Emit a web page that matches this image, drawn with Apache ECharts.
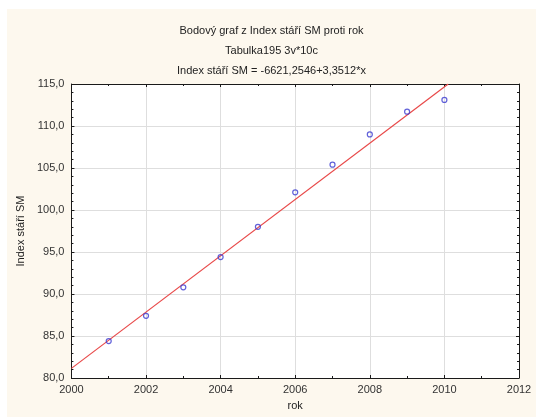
<!DOCTYPE html>
<html>
<head>
<meta charset="utf-8">
<script src="https://cdn.jsdelivr.net/npm/echarts@6/dist/echarts.min.js"></script>
<style>
  html, body { margin: 0; padding: 0; background: #ffffff; }
  #chart { position: absolute; left: 7px; top: 9px; width: 529px; height: 408px; background: #fdf8ee; }
</style>
</head>
<body>
<div id="chart"></div>
<script>
// Observed values: year vs. ageing index
const years = [2001, 2002, 2003, 2004, 2005, 2006, 2007, 2008, 2009, 2010];
const indexValues = [84.4, 87.4, 90.8, 94.4, 98.0, 102.1, 105.4, 109.0, 111.7, 113.1];

// Fitted line: y = a + b*x
const intercept = -6621.2546;
const slope = 3.3512;

const titleLines = [
  'Bodový graf z Index stáří SM proti rok',
  'Tabulka195 3v*10c',
  'Index stáří SM = -6621,2546+3,3512*x'
];

const xMin = 2000, xMax = 2012, xStep = 2;
const yMin = 80, yMax = 115, yStep = 5;

// Regression line clipped to the plot box
const fitStart = xMin;
const fitEnd = (yMax - intercept) / slope;
const fitLine = [
  [fitStart, intercept + slope * fitStart],
  [fitEnd, intercept + slope * fitEnd]
];

const font = 'Liberation Sans, Arial, sans-serif';
const axisColor = '#1a1a1a';
const gridColor = '#dedede';

function fmtComma(v) { return v.toFixed(1).replace('.', ','); }
function fmtYear(v) { return String(v); }

const chart = echarts.init(document.getElementById('chart'), null, { renderer: 'canvas' });

const baseX = {
  type: 'value', min: xMin, max: xMax, interval: xStep,
  axisLine: { show: true, onZero: false, lineStyle: { color: axisColor, width: 1 } },
  axisTick: { show: true, inside: true, length: 3, lineStyle: { color: axisColor } },
  minorTick: { show: true, splitNumber: 2, length: 2, lineStyle: { color: axisColor } },
  splitLine: { show: false }
};
const baseY = {
  type: 'value', min: yMin, max: yMax, interval: yStep,
  axisLine: { show: true, onZero: false, lineStyle: { color: axisColor, width: 1 } },
  axisTick: { show: true, inside: true, length: 3, lineStyle: { color: axisColor } },
  minorTick: { show: true, splitNumber: 5, length: 2, lineStyle: { color: axisColor } },
  splitLine: { show: false }
};

chart.setOption({
  animation: false,
  backgroundColor: '#fdf8ee',
  title: {
    text: titleLines.join('\n'),
    left: 'center',
    top: 7,
    textStyle: { fontFamily: font, fontSize: 11, fontWeight: 'normal', color: '#222', lineHeight: 20 }
  },
  grid: { left: 62, top: 75, right: 17, bottom: 39, backgroundColor: '#ffffff', show: true, borderWidth: 0 },
  xAxis: [
    Object.assign({}, baseX, {
      position: 'bottom',
      name: 'rok', nameLocation: 'middle', nameGap: 22,
      nameTextStyle: { fontFamily: font, fontSize: 11, color: '#222' },
      axisLabel: { fontFamily: font, fontSize: 11, color: '#333', margin: 6, formatter: fmtYear },
      splitLine: { show: true, lineStyle: { color: gridColor, width: 1 } }
    }),
    Object.assign({}, baseX, { position: 'top', axisLabel: { show: false } })
  ],
  yAxis: [
    Object.assign({}, baseY, {
      position: 'left',
      name: 'Index stáří SM', nameLocation: 'middle', nameGap: 45, nameRotate: 90,
      nameTextStyle: { fontFamily: font, fontSize: 11, color: '#222' },
      axisLabel: { fontFamily: font, fontSize: 11, color: '#333', margin: 7, formatter: fmtComma },
      splitLine: { show: true, lineStyle: { color: gridColor, width: 1 } }
    }),
    Object.assign({}, baseY, { position: 'right', axisLabel: { show: false } })
  ],
  series: [
    {
      type: 'line',
      data: fitLine,
      showSymbol: false,
      symbol: 'none',
      lineStyle: { color: '#e84848', width: 1.2 },
      z: 2
    },
    {
      type: 'scatter',
      data: years.map((y, i) => [y, indexValues[i]]),
      symbol: 'circle',
      symbolSize: 5,
      itemStyle: { color: 'rgba(255,255,255,0)', borderColor: '#3a3ad0', borderWidth: 1.2 },
      z: 3
    }
  ]
});
</script>
</body>
</html>
